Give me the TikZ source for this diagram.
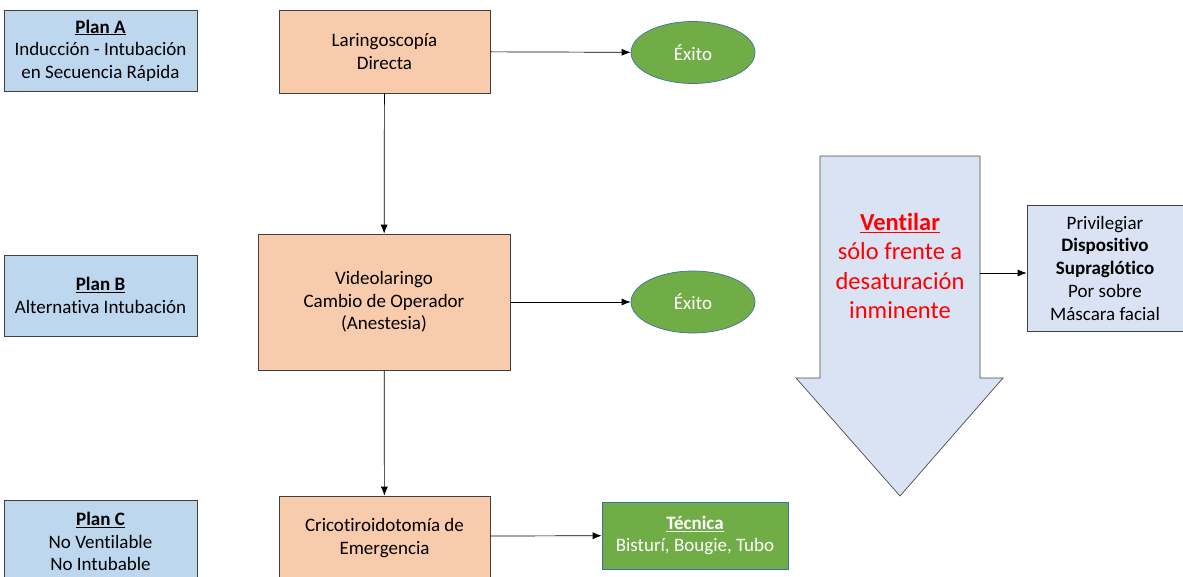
\documentclass[tikz,border=0pt]{standalone}
\usepackage{fontspec}
\setmainfont{Carlito}[Ligatures=NoCommon]
\usetikzlibrary{shapes.geometric,arrows.meta}
\definecolor{planblue}{HTML}{BDD7EE}
\definecolor{stepfill}{HTML}{F8CBAD}
\definecolor{okgreen}{HTML}{70AD47}
\definecolor{okedge}{HTML}{41719C}
\definecolor{ventblue}{HTML}{DAE3F3}
\definecolor{ventred}{HTML}{FF0000}

\begin{document}
\begin{tikzpicture}[x=1pt,y=-1pt,>={Latex[length=9pt,width=7pt]},line width=0.7pt,
  plan/.style={draw=black!75,fill=planblue,minimum width=193pt,minimum height=81pt,
    inner sep=0pt,align=center,font=\fontsize{19}{22.5}\selectfont},
  stepbox/.style={draw=black!75,fill=stepfill,inner sep=0pt,align=center,
    font=\fontsize{19}{22.5}\selectfont},
  exito/.style={ellipse,draw=okedge,fill=okgreen,text=white,minimum width=124pt,
    minimum height=62pt,inner sep=0pt,font=\fontsize{19}{22}\selectfont},
  tecbox/.style={draw=okedge,fill=okgreen,text=white,minimum width=186pt,
    minimum height=67pt,inner sep=0pt,align=center,font=\fontsize{19}{22.5}\selectfont},
  flow/.style={->,black}]
\useasboundingbox (0,0) rectangle (1183,576);
\clip (0,0) rectangle (1183,576);

% planes
\node[plan] (planA) at (100.5,50.5) {\underline{\textbf{Plan A}}\\Inducción - Intubación\\en Secuencia Rápida};
\node[plan] (planB) at (100.5,295.5) {\underline{\textbf{Plan B}}\\Alternativa Intubación};
\node[plan,minimum height=83pt] (planC) at (100.5,541.5) {\underline{\textbf{Plan C}}\\No Ventilable\\No Intubable};

% pasos
\node[stepbox,minimum width=211pt,minimum height=83pt] (lar) at (384.5,51.5) {Laringoscopía\\Directa};
\node[stepbox,minimum width=252pt,minimum height=136pt] (video) at (384,302) {Videolaringo\\Cambio de Operador\\(Anestesia)};
\node[stepbox,minimum width=211pt,minimum height=84pt] (crico) at (384.5,538) {Cricotiroidotomía de\\Emergencia};

\node[exito] (ex1) at (693,52.5) {Éxito};
\node[exito] (ex2) at (693,302) {Éxito};
\node[tecbox] (tec) at (695,535.5) {\underline{\textbf{Técnica}}\\Bisturí, Bougie, Tubo};

\path[flow] (lar) edge (ex1)
            (video) edge (ex2)
            (lar) edge (video)
            (video) edge (crico);
\draw[flow] (crico.east |- 0,536) -- (tec);

% flecha ventilar
\draw[draw=black!70,fill=ventblue] (820,156) -- (980,156) -- (980,378) -- (1003,378)
  -- (900,496) -- (796,378) -- (820,378) -- cycle;
\node[text=ventred,align=center,font=\fontsize{24.5}{29.5}\selectfont] (vtxt) at (900,266)
  {\underline{\textbf{Ventilar}}\\sólo frente a\\desaturación\\inminente};
\coordinate (vent) at (980,273);
\node[draw=black!75,fill=ventblue,minimum width=156pt,minimum height=126pt,inner sep=0pt,
  align=center,font=\fontsize{19}{22.75}\selectfont] (supra) at (1105,268)
  {Privilegiar\\\textbf{Dispositivo}\\\textbf{Supraglótico}\\Por sobre\\Máscara facial};
\draw[flow] (vent) -- (vent -| supra.west);
\end{tikzpicture}
\end{document}
